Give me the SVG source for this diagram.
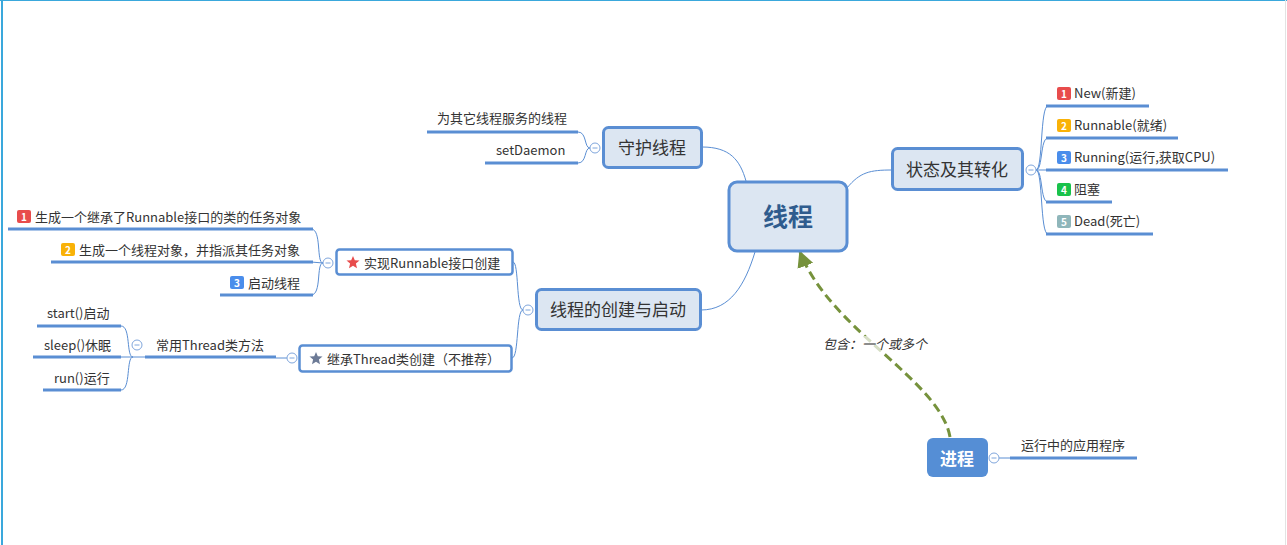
<svg xmlns="http://www.w3.org/2000/svg" width="1287" height="545" viewBox="0 0 1287 545">
<defs>
<style>
text{font-family:"Microsoft YaHei","Noto Sans CJK SC","Noto Sans",sans-serif;fill:#333;}
.leaf{font-size:13px;}
.node{fill:#DCE6F2;stroke:#5A8ED3;stroke-width:3;}
.sub{fill:#fff;stroke:#5A8ED3;stroke-width:2.5;}
.ul{stroke:#5A8ED3;stroke-width:3;fill:none;}
.cn{stroke:#5A8ED3;stroke-width:1;fill:none;}
.col{fill:#fff;stroke:#7FA6DC;stroke-width:1;}
.minus{stroke:#7FA6DC;stroke-width:1;}
.badge{font-size:10px;font-weight:bold;fill:#fff;text-anchor:middle;}
.nt{font-size:17px;text-anchor:middle;}
</style>
<marker id="arr" viewBox="0 0 10 10" refX="9" refY="5" markerWidth="5.5" markerHeight="5.5" orient="auto">
<path d="M0,0 L10,5 L0,10 z" fill="#76923C"/>
</marker>
<symbol id="c" viewBox="-6 -6 12 12" overflow="visible">
<circle r="5" class="col"/><line x1="-2.5" x2="2.5" y1="0" y2="0" class="minus"/>
</symbol>
</defs>
<rect width="1287" height="545" fill="#fff"/>
<line x1="0" y1="0.5" x2="1287" y2="0.5" stroke="#3AA8DC" stroke-width="1"/>
<line x1="2" y1="0" x2="2" y2="545" stroke="#3AA8DC" stroke-width="2"/>
<line x1="1285.5" y1="0" x2="1285.5" y2="545" stroke="#E3E3E3" stroke-width="1"/>

<g id="connectors">
<path class="cn" d="M702,147 C730,147 740,160 746,181"/>
<path class="cn" d="M847,188 C860,172 870,170 892,170"/>
<path class="cn" d="M755,252 C745,285 730,310 701,310"/>
<path class="cn" d="M590,148 C584,148 587,132 578,132"/>
<path class="cn" d="M590,148 C584,148 587,163 578,163"/>
<path class="cn" d="M1036,170 C1043,170 1040,106 1048,106"/>
<path class="cn" d="M1036,170 C1043,170 1040,138 1048,138"/>
<path class="cn" d="M1036,170 L1048,170"/>
<path class="cn" d="M1036,170 C1043,170 1040,202 1048,202"/>
<path class="cn" d="M1036,170 C1043,170 1040,234 1048,234"/>
<path class="cn" d="M523,310 C516,310 519,262 513,262"/>
<path class="cn" d="M523,310 C516,310 519,358 512,358"/>
<path class="cn" d="M323,263 C316,263 322,229 311,229"/>
<path class="cn" d="M323,263 L311,262"/>
<path class="cn" d="M323,263 C316,263 322,295 311,295"/>
<path class="cn" d="M287,358 L276,358"/>
<path class="cn" d="M33,357 L145,357"/>
<path class="cn" d="M133,357 C126,357 131,326 121,326"/>
<path class="cn" d="M133,357 C126,357 131,390 121,390"/>
<path class="cn" d="M999,458 L1010,458"/>
<path d="M950,437 C940,380 830,330 800,252" fill="none" stroke="#76923C" stroke-width="3" stroke-dasharray="9,5" marker-end="url(#arr)"/>
<rect x="821" y="336" width="110" height="17" fill="#fff" opacity="0.7"/>
<text x="823" y="349" font-size="13" font-style="italic" fill="#555">包含：一个或多个</text>
</g>

<g id="n-thread">
<rect x="729" y="182" width="118" height="69" rx="8" class="node" stroke-width="4"/>
<text x="788" y="226" font-size="25" font-weight="bold" text-anchor="middle" style="fill:#2F5C8E">线程</text>
</g>

<g id="n-daemon">
<rect x="603.5" y="127.5" width="98" height="40" rx="5" class="node"/>
<text x="652" y="154" class="nt">守护线程</text>
<use href="#c" x="589" y="142" width="12" height="12"/>
</g>
<g id="l-daemon1">
<line x1="427" y1="132" x2="578" y2="132" class="ul"/>
<text x="437" y="123" class="leaf">为其它线程服务的线程</text>
</g>
<g id="l-daemon2">
<line x1="485" y1="163" x2="578" y2="163" class="ul"/>
<text x="496" y="155" class="leaf">setDaemon</text>
</g>

<g id="n-state">
<rect x="892.5" y="148.5" width="130" height="41" rx="5" class="node"/>
<text x="957" y="176" class="nt">状态及其转化</text>
<use href="#c" x="1025" y="164" width="12" height="12"/>
</g>
<g id="l-s1">
<line x1="1046" y1="106" x2="1149" y2="106" class="ul"/>
<rect x="1057" y="87" width="14" height="13" rx="2" fill="#E84C4C"/><text x="1064" y="97.5" class="badge">1</text>
<text x="1074" y="98" class="leaf">New(新建)</text>
</g>
<g id="l-s2">
<line x1="1046" y1="138" x2="1178" y2="138" class="ul"/>
<rect x="1057" y="119" width="14" height="13" rx="2" fill="#F9B208"/><text x="1064" y="129.5" class="badge">2</text>
<text x="1074" y="130" class="leaf">Runnable(就绪)</text>
</g>
<g id="l-s3">
<line x1="1046" y1="170" x2="1228" y2="170" class="ul"/>
<rect x="1057" y="151" width="14" height="13" rx="2" fill="#4A8DEB"/><text x="1064" y="161.5" class="badge">3</text>
<text x="1074" y="162" class="leaf">Running(运行,获取CPU)</text>
</g>
<g id="l-s4">
<line x1="1046" y1="202" x2="1112" y2="202" class="ul"/>
<rect x="1057" y="183" width="14" height="13" rx="2" fill="#19C24B"/><text x="1064" y="193.5" class="badge">4</text>
<text x="1074" y="194" class="leaf">阻塞</text>
</g>
<g id="l-s5">
<line x1="1046" y1="234" x2="1153" y2="234" class="ul"/>
<rect x="1057" y="215" width="14" height="13" rx="2" fill="#8FB6BA"/><text x="1064" y="225.5" class="badge">5</text>
<text x="1074" y="226" class="leaf">Dead(死亡)</text>
</g>

<g id="n-create">
<rect x="536.5" y="289.5" width="164" height="40" rx="5" class="node"/>
<text x="618" y="316" class="nt">线程的创建与启动</text>
<use href="#c" x="522" y="304" width="12" height="12"/>
</g>

<g id="n-runnable">
<rect x="336.5" y="249.5" width="176" height="25" rx="3" class="sub"/>
<path d="M353,256 L354.8,260.3 L359.5,260.6 L355.9,263.6 L357,268.2 L353,265.7 L349,268.2 L350.1,263.6 L346.5,260.6 L351.2,260.3 Z" fill="#E84C4C"/>
<text x="364" y="268" class="leaf">实现Runnable接口创建</text>
<use href="#c" x="322" y="257" width="12" height="12"/>
</g>
<g id="l-r1">
<line x1="8" y1="229" x2="313" y2="229" class="ul"/>
<rect x="17" y="210" width="14" height="13" rx="2" fill="#E84C4C"/><text x="24" y="220.5" class="badge">1</text>
<text x="35" y="222" class="leaf">生成一个继承了Runnable接口的类的任务对象</text>
</g>
<g id="l-r2">
<line x1="51" y1="262" x2="313" y2="262" class="ul"/>
<rect x="61" y="243" width="14" height="13" rx="2" fill="#F9B208"/><text x="68" y="253.5" class="badge">2</text>
<text x="79" y="255" class="leaf">生成一个线程对象，并指派其任务对象</text>
</g>
<g id="l-r3">
<line x1="220" y1="295" x2="313" y2="295" class="ul"/>
<rect x="230" y="276" width="14" height="13" rx="2" fill="#4A8DEB"/><text x="237" y="286.5" class="badge">3</text>
<text x="248" y="288" class="leaf">启动线程</text>
</g>

<g id="n-thread-ext">
<rect x="299.5" y="345.5" width="212" height="26" rx="3" class="sub"/>
<path d="M316,352 L317.8,356.3 L322.5,356.6 L318.9,359.6 L320,364.2 L316,361.7 L312,364.2 L313.1,359.6 L309.5,356.6 L314.2,356.3 Z" fill="#6C7A96"/>
<text x="327" y="364" class="leaf">继承Thread类创建（不推荐）</text>
<use href="#c" x="286" y="352" width="12" height="12"/>
</g>
<g id="l-methods">
<line x1="145" y1="357" x2="276" y2="357" class="ul"/>
<text x="156" y="350" class="leaf">常用Thread类方法</text>
<use href="#c" x="131" y="339" width="12" height="12"/>
</g>
<g id="l-m1">
<line x1="37" y1="326" x2="121" y2="326" class="ul"/>
<text x="47" y="318" class="leaf">start()启动</text>
</g>
<g id="l-m2">
<line x1="33" y1="357" x2="121" y2="357" class="ul"/>
<text x="44" y="350" class="leaf">sleep()休眠</text>
</g>
<g id="l-m3">
<line x1="43" y1="390" x2="121" y2="390" class="ul"/>
<text x="54" y="383" class="leaf">run()运行</text>
</g>

<g id="n-process">
<rect x="927" y="438" width="61" height="39" rx="6" fill="#558ED5"/>
<text x="957" y="465" font-size="17" font-weight="bold" text-anchor="middle" style="fill:#fff">进程</text>
<use href="#c" x="988" y="452" width="12" height="12"/>
</g>
<g id="l-process">
<line x1="1010" y1="458" x2="1137" y2="458" class="ul"/>
<text x="1021" y="450" class="leaf">运行中的应用程序</text>
</g>
</svg>
